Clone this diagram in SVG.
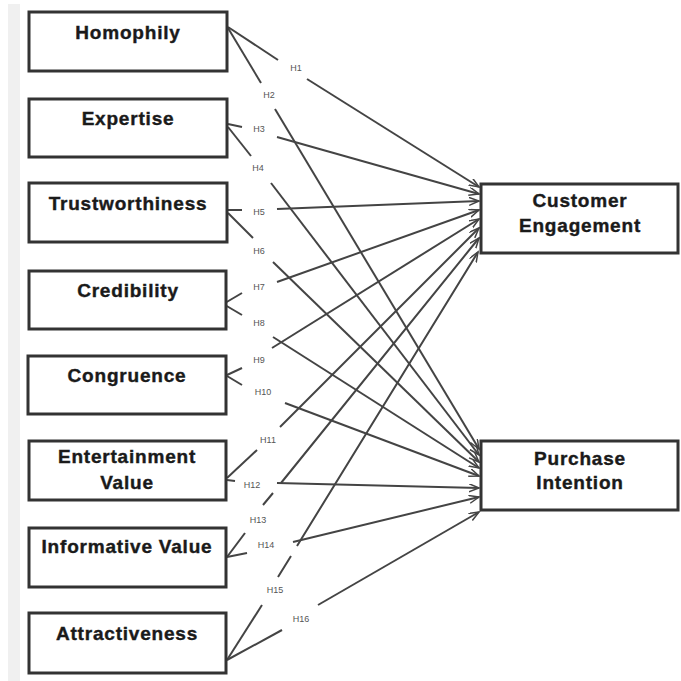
<svg xmlns="http://www.w3.org/2000/svg" width="681" height="681" viewBox="0 0 681 681">
<defs>
<style>
.box{fill:#fff;stroke:#333;stroke-width:3}
.lbl{font-family:"Liberation Sans",Arial,sans-serif;font-weight:bold;font-size:19px;letter-spacing:0.8px;fill:#1a1a1a;stroke:#1a1a1a;stroke-width:0.4;text-anchor:middle}
.h{font-family:"Liberation Sans",Arial,sans-serif;font-size:9px;fill:#555;text-anchor:middle}
.e{fill:none;stroke:#444;stroke-width:2}
.a{marker-end:url(#arr)}
</style>
<marker id="arr" markerUnits="userSpaceOnUse" markerWidth="12" markerHeight="10" refX="10" refY="4" orient="auto">
<path d="M0,0 L10,4 L0,8" fill="none" stroke="#444" stroke-width="1.5"/>
</marker>
</defs>
<rect width="681" height="681" fill="#fff"/>
<rect x="8" y="4" width="12" height="677" fill="#f0f0f0"/>

<g id="connectors">
<path class="e" d="M228,27 L278,60"/><path class="e a" d="M307,79 L479,187"/>
<path class="e" d="M228,28 L261,83"/><path class="e a" d="M275,109 L479,449"/>
<path class="e" d="M228,124 L242,127"/><path class="e a" d="M277,137 L479,194"/>
<path class="e" d="M228,127 L251,156"/><path class="e a" d="M271,183 L479,455"/>
<path class="e" d="M228,210 L242,210"/><path class="e a" d="M277,209 L479,201"/>
<path class="e" d="M228,213 L253,238"/><path class="e a" d="M273,262 L479,462"/>
<path class="e" d="M225,303 L242,293"/><path class="e a" d="M277,282 L479,210"/>
<path class="e" d="M225,305 L242,315"/><path class="e a" d="M273,337 L479,468"/>
<path class="e" d="M227,375 L242,368"/><path class="e a" d="M272,348 L479,219"/>
<path class="e" d="M227,376 L242,385"/><path class="e a" d="M285,403 L479,476"/>
<path class="e" d="M227,478 L257,450"/><path class="e a" d="M280,427 L479,228"/>
<path class="e" d="M227,480 L235,481"/><path class="e a" d="M277,483 L479,488"/>
<path class="e" d="M227,557 L245,533"/><path class="e a" d="M263,505 L273,493 M281,483 L479,238"/>
<path class="e" d="M227,557 L247,553"/><path class="e a" d="M293,542 L479,497"/>
<path class="e" d="M227,660 L262,605"/><path class="e a" d="M278,577 L291,556 M297,546 L478,252"/>
<path class="e" d="M227,660 L282,630"/><path class="e a" d="M318,605 L479,512"/>
<text class="h" x="296" y="71">H1</text>
<text class="h" x="269" y="98">H2</text>
<text class="h" x="259" y="132">H3</text>
<text class="h" x="258" y="171">H4</text>
<text class="h" x="259" y="215">H5</text>
<text class="h" x="259" y="254">H6</text>
<text class="h" x="259" y="290">H7</text>
<text class="h" x="259" y="326">H8</text>
<text class="h" x="259" y="363">H9</text>
<text class="h" x="263" y="395">H10</text>
<text class="h" x="268" y="443">H11</text>
<text class="h" x="252" y="488">H12</text>
<text class="h" x="258" y="523">H13</text>
<text class="h" x="266" y="548">H14</text>
<text class="h" x="275" y="593">H15</text>
<text class="h" x="301" y="622">H16</text>
</g>

<g id="homophily"><rect class="box" x="29" y="12" width="198" height="59"/><text class="lbl" x="128" y="39">Homophily</text></g>
<g id="expertise"><rect class="box" x="29" y="99" width="198" height="58"/><text class="lbl" x="128" y="125">Expertise</text></g>
<g id="trustworthiness"><rect class="box" x="29" y="183" width="198" height="59"/><text class="lbl" x="128" y="210">Trustworthiness</text></g>
<g id="credibility"><rect class="box" x="29" y="271" width="197" height="58"/><text class="lbl" x="128" y="297">Credibility</text></g>
<g id="congruence"><rect class="box" x="28" y="356" width="198" height="58"/><text class="lbl" x="127" y="382">Congruence</text></g>
<g id="entertainment"><rect class="box" x="29" y="441" width="197" height="59"/><text class="lbl" x="127" y="463">Entertainment</text><text class="lbl" x="127" y="489">Value</text></g>
<g id="informative"><rect class="box" x="29" y="528" width="197" height="59"/><text class="lbl" x="127" y="553" letter-spacing="0">Informative Value</text></g>
<g id="attractiveness"><rect class="box" x="29" y="613" width="197" height="60"/><text class="lbl" x="127" y="640">Attractiveness</text></g>
<g id="customer-engagement"><rect class="box" x="481" y="184" width="197" height="69"/><text class="lbl" x="580" y="207">Customer</text><text class="lbl" x="580" y="232">Engagement</text></g>
<g id="purchase-intention"><rect class="box" x="481" y="441" width="197" height="69"/><text class="lbl" x="580" y="465">Purchase</text><text class="lbl" x="580" y="489">Intention</text></g>
</svg>
